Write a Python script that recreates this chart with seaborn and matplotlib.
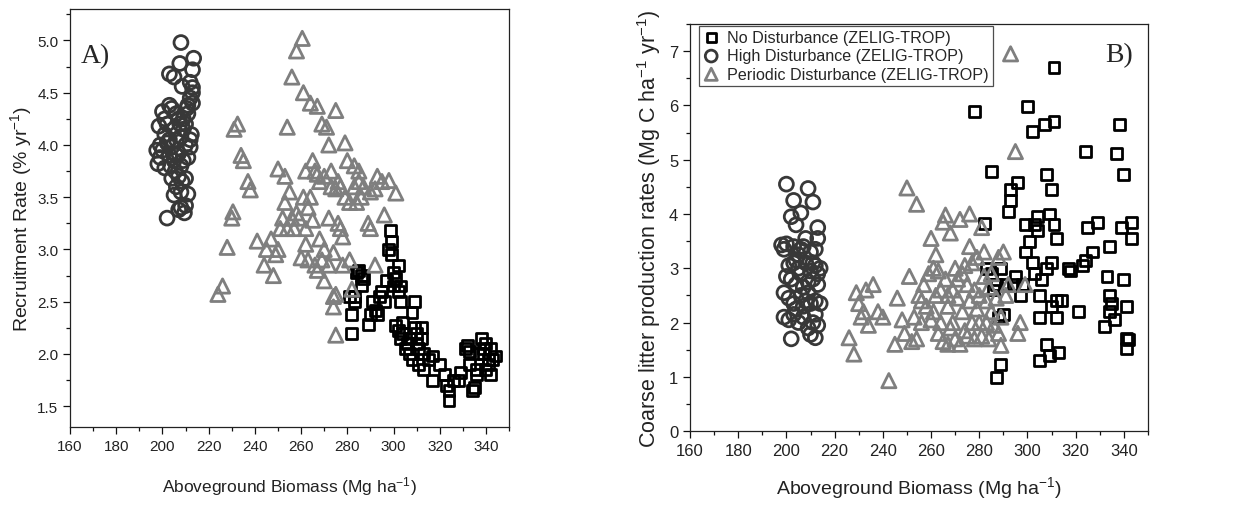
import numpy as np
import pandas as pd
import matplotlib
matplotlib.use("Agg")
import matplotlib.pyplot as plt
from matplotlib.ticker import MultipleLocator
import seaborn as sns

# ---------------- Panel A: recruitment rate ----------------
a_high_x = [208, 213.5, 213, 207.5, 203, 205, 208.5, 213, 213, 212, 211, 211, 212.5,
            200, 203, 204, 206, 207, 209, 210, 207.5, 202, 198.5, 201, 205,
            199, 202, 204, 206, 208, 210, 212, 197.5, 199, 203, 205, 207, 209, 211,
            198, 201, 203.5, 205.5, 207, 204, 208.5, 210, 206, 208, 205, 211, 208, 210,
            209.5, 207, 202, 212, 213, 210.5, 201, 203, 200, 206, 208, 212, 209]
a_high_y = [4.98, 4.83, 4.72, 4.78, 4.68, 4.65, 4.56, 4.55, 4.50, 4.45, 4.38, 4.30, 4.10,
            4.32, 4.38, 4.35, 4.30, 4.25, 4.25, 4.20, 4.20, 4.20, 4.18, 4.10, 4.15,
            4.00, 4.02, 3.98, 4.05, 4.08, 4.00, 3.98, 3.95, 3.88, 3.90, 3.85, 3.92, 3.85, 3.88,
            3.82, 3.78, 3.80, 3.75, 3.70, 3.68, 3.65, 3.68, 3.60, 3.55, 3.52, 3.53, 3.40, 3.42,
            3.35, 3.38, 3.30, 4.60, 4.40, 4.35, 4.25, 4.05, 3.95, 3.90, 3.80, 4.05, 4.15]

a_per_x = [224, 226, 228, 230, 230.5, 231, 232.5, 234, 235, 237, 238, 241,
           244, 245, 247, 248, 249, 250, 250, 253, 254, 251, 252, 253, 254, 255, 256,
           256, 258, 260.5, 259, 260, 261, 261, 262, 262, 262, 263, 264, 264, 265, 265,
           266, 266, 267, 267, 268, 268, 269, 269, 270, 270, 271, 272, 272, 273, 273,
           274, 274, 274, 275, 275, 275, 276, 276, 277, 277, 278, 278, 279, 279, 280,
           281, 281, 282, 283, 284, 285, 285, 286, 287, 289, 290, 290, 292, 292, 293,
           295, 296, 298, 301, 257, 258, 270, 272, 283, 267, 275, 263]
a_per_y = [2.57, 2.65, 3.02, 3.30, 3.36, 4.15, 4.20, 3.90, 3.85, 3.65, 3.57, 3.08,
           2.85, 3.00, 3.10, 2.75, 2.95, 3.00, 3.77, 3.70, 4.17, 3.20, 3.30, 3.45, 3.20, 3.55, 3.30,
           4.65, 4.90, 5.02, 3.30, 2.92, 3.50, 4.50, 3.75, 3.20, 3.05, 2.90, 3.50, 4.40, 3.28, 3.85,
           2.85, 3.75, 4.37, 2.80, 3.10, 3.65, 4.20, 2.90, 3.70, 2.70, 4.17, 4.00, 2.85, 3.60, 3.75,
           2.97, 2.45, 2.55, 2.18, 4.33, 3.58, 3.65, 3.25, 3.20, 3.60, 2.85, 3.12, 4.02, 3.50, 3.85,
           3.45, 2.90, 2.62, 3.80, 3.45, 3.65, 3.75, 3.50, 3.60, 3.25, 3.20, 3.55, 2.85, 3.58, 3.70,
           3.65, 3.33, 3.66, 3.54, 3.20, 3.35, 3.00, 3.30, 3.60, 3.72, 2.57, 3.40]

a_no_x = [281, 282, 282, 283, 284, 285, 286, 287, 283, 286,
          289, 290, 291, 292, 293, 294, 295, 296,
          297, 298, 298.5, 299, 299, 300, 300, 301, 302, 302, 303, 303, 301, 302, 304, 304, 303,
          305, 306, 307, 307, 308, 309, 309, 308, 310, 310, 311, 311, 312, 312, 313, 313, 315,
          317, 317, 320, 322, 323, 324, 324, 326, 328, 329, 331, 332, 333, 333, 334, 335, 336,
          336, 337, 338, 339, 340, 340, 341, 342, 342, 343, 344, 339, 341]
a_no_y = [2.55, 2.38, 2.20, 2.55, 2.78, 2.80, 2.65, 2.72, 2.50, 2.75,
          2.28, 2.38, 2.50, 2.42, 2.38, 2.55, 2.60, 2.50,
          2.70, 3.00, 3.18, 3.08, 2.95, 2.78, 2.65, 2.72, 2.60, 2.85, 2.50, 2.65, 2.27, 2.22, 2.30, 2.20, 2.15,
          2.05, 2.10, 2.00, 2.15, 2.40, 2.50, 2.25, 1.95, 2.10, 2.20, 2.05, 1.90, 2.25, 2.15, 1.85, 2.00, 1.95,
          1.75, 1.98, 1.90, 1.80, 1.70, 1.55, 1.65, 1.75, 1.75, 1.82, 2.05, 2.08, 2.02, 1.90, 1.65, 1.68, 1.85,
          1.80, 2.00, 2.15, 2.00, 2.10, 1.85, 1.95, 2.05, 1.80, 1.95, 1.98, 2.05, 1.90]

# ---------------- Panel B: coarse litter production ----------------
b_high_x = [200, 203, 202, 204, 206, 209, 211, 208, 213, 213, 198, 200, 199, 203, 205, 207, 210, 212,
            201, 203, 205, 206, 208, 210, 212, 214, 202, 204, 207, 209, 211, 213,
            199, 201, 203, 206, 208, 210, 212, 214, 199, 201, 203, 205, 207, 209, 211, 212, 213,
            202, 210, 212, 204, 206, 211, 213, 200, 207, 209, 204]
b_high_y = [4.55, 4.25, 3.95, 3.80, 4.02, 4.47, 4.22, 3.55, 3.75, 3.55, 3.43, 3.45, 3.35, 3.40, 3.25, 3.40, 3.30, 3.35,
            3.05, 3.10, 3.00, 2.90, 3.10, 2.95, 3.05, 3.00, 2.80, 2.70, 2.65, 2.75, 2.80, 2.70,
            2.55, 2.45, 2.35, 2.50, 2.40, 2.35, 2.40, 2.35, 2.10, 2.05, 2.15, 2.00, 2.10, 1.90, 2.00, 2.15, 1.95,
            1.70, 1.78, 1.72, 3.15, 3.35, 3.10, 2.90, 2.85, 2.30, 2.55, 2.25]

b_per_x = [226, 228, 229, 230, 231, 232, 233, 234, 236, 238, 240, 242.5, 245, 246, 248, 249, 250, 251,
           252, 253, 254, 254, 255, 256, 257, 258, 259, 260, 260, 261, 261, 262, 262, 263, 264, 264,
           265, 265, 266, 266, 267, 267, 268, 268, 269, 269, 270, 270, 271, 272, 272, 273, 273, 274,
           274, 275, 275, 276, 276, 276, 277, 277, 278, 278, 279, 279, 280, 280, 281, 281, 282, 282,
           283, 283, 284, 284, 285, 286, 287, 288, 288, 289, 289, 290, 291, 292, 293, 295, 296, 297,
           299, 256, 263, 271, 285, 267]
b_per_y = [1.72, 1.42, 2.55, 2.35, 2.10, 2.20, 2.60, 1.95, 2.70, 2.20, 2.10, 0.93, 1.60, 2.45, 2.05, 1.80, 4.48, 2.85,
           1.65, 2.10, 4.18, 1.70, 2.50, 2.00, 2.70, 2.30, 2.90, 2.05, 3.55, 3.00, 2.20, 3.25, 2.50, 1.80, 2.60, 2.00,
           3.85, 1.65, 3.98, 2.80, 2.30, 1.60, 1.90, 3.65, 2.60, 2.00, 3.00, 1.70, 2.45, 1.60, 3.90, 2.90, 2.20, 3.05,
           1.85, 2.70, 1.75, 4.00, 3.40, 2.40, 3.10, 2.00, 2.60, 1.70, 2.25, 3.20, 2.50, 2.00, 3.75, 1.75, 3.30, 2.85,
           2.40, 2.00, 2.65, 1.70, 2.20, 1.95, 2.45, 3.20, 1.80, 2.10, 1.58, 3.30, 2.50, 2.70, 6.95, 5.15, 1.80, 2.00,
           2.70, 2.40, 2.95, 2.80, 2.90, 2.50]

b_no_x = [278, 282, 285, 283, 285, 286, 287, 289, 290, 288, 287, 289, 291, 292, 293, 293, 294, 295, 296,
          297, 298, 299, 299, 300, 301, 302, 302, 303, 303, 304, 304, 305, 305, 305, 306, 307, 308, 308,
          308, 309, 309, 310, 310, 310, 311, 311, 311, 312, 312, 312, 313, 314, 317, 318, 321, 323, 324,
          324, 325, 327, 329, 332, 333, 334, 334, 334, 335, 336, 337, 338, 339, 340, 340, 341, 341, 341,
          342, 343, 343]
b_no_y = [5.88, 3.82, 4.78, 3.00, 2.90, 2.60, 2.70, 3.00, 2.15, 2.10, 0.98, 1.22, 2.70, 4.05, 4.25, 4.45, 2.70, 2.85, 4.58,
          2.50, 2.70, 3.80, 3.30, 5.98, 3.50, 5.52, 3.10, 3.80, 2.90, 3.95, 3.70, 2.10, 1.30, 2.50, 2.80, 5.65, 4.72, 3.00,
          1.60, 1.40, 4.00, 4.45, 2.30, 3.10, 6.70, 5.70, 3.80, 3.55, 2.40, 2.10, 1.45, 2.40, 3.00, 2.95, 2.20, 3.05, 3.15,
          5.15, 3.75, 3.30, 3.85, 1.92, 2.85, 3.40, 2.50, 2.20, 2.35, 2.05, 5.12, 5.65, 3.75, 4.72, 2.80, 2.30, 1.70, 1.52,
          1.68, 3.55, 3.85]

labels = ["No Disturbance (ZELIG-TROP)", "High Disturbance (ZELIG-TROP)",
          "Periodic Disturbance (ZELIG-TROP)"]
xticks = [160, 180, 200, 220, 240, 260, 280, 300, 320, 340]

# ---------------- styling ----------------
sns.set_theme(style="white")
plt.rcParams['font.family'] = ['Liberation Sans', 'DejaVu Sans']
plt.rcParams['mathtext.default'] = 'regular'

C_NO, C_HIGH, C_PER = "#000000", "#383838", "#7f7f7f"
LW = 2.0

fig = plt.figure(figsize=(12.6, 5.06), dpi=100)
axA = fig.add_axes([0.0556, 0.154, 0.3484, 0.826])
axB = fig.add_axes([0.5476, 0.146, 0.3635, 0.8046])


def draw(ax, nx, ny, hx, hy, px, py):
    sns.scatterplot(x=nx, y=ny, ax=ax, marker="s", s=62, facecolor="none",
                    edgecolor=C_NO, linewidth=LW, label=labels[0], zorder=2)
    sns.scatterplot(x=hx, y=hy, ax=ax, marker="o", s=100, facecolor="none",
                    edgecolor=C_HIGH, linewidth=LW, label=labels[1], zorder=2)
    sns.scatterplot(x=px, y=py, ax=ax, marker="^", s=105, facecolor="none",
                    edgecolor=C_PER, linewidth=LW, label=labels[2], zorder=2)


draw(axA, a_no_x, a_no_y, a_high_x, a_high_y, a_per_x, a_per_y)
draw(axB, b_no_x, b_no_y, b_high_x, b_high_y, b_per_x, b_per_y)

for ax, tsize in ((axA, 11), (axB, 12)):
    ax.set_xlim(160, 350)
    ax.set_xticks(xticks)
    ax.xaxis.set_minor_locator(MultipleLocator(10))
    ax.tick_params(axis="both", which="both", direction="out", bottom=True, left=True,
                   top=False, right=False, colors="#111111", labelcolor="#222222",
                   width=0.9, labelsize=tsize)
    ax.tick_params(which="major", length=5)
    ax.tick_params(which="minor", length=3)
    for sp in ax.spines.values():
        sp.set_color("#222222")
        sp.set_linewidth(0.9)

axA.set_ylim(1.3, 5.3)
axA.set_yticks([1.5, 2.0, 2.5, 3.0, 3.5, 4.0, 4.5, 5.0])
axA.yaxis.set_minor_locator(MultipleLocator(0.25))
axA.set_xlabel("Aboveground Biomass (Mg ha$^{-1}$)", fontsize=12.5, labelpad=15, color="#222222")
axA.set_ylabel("Recruitment Rate (% yr$^{-1}$)", fontsize=14, labelpad=2, color="#222222")
axA.get_legend().remove()
axA.text(0.025, 0.888, "A)", transform=axA.transAxes, fontsize=20,
         family="Liberation Serif", va="center", ha="left")

axB.set_ylim(0, 7.5)
axB.set_yticks([0, 1, 2, 3, 4, 5, 6, 7])
axB.yaxis.set_minor_locator(MultipleLocator(0.5))
axB.set_xlabel("Aboveground Biomass (Mg ha$^{-1}$)", fontsize=14, labelpad=12, color="#222222")
axB.set_ylabel("Coarse litter production rates (Mg C ha$^{-1}$ yr$^{-1}$)", fontsize=15.5,
               labelpad=4, color="#222222")
axB.text(0.906, 0.926, "B)", transform=axB.transAxes, fontsize=20,
         family="Liberation Serif", va="center", ha="left")
leg = axB.legend(loc="upper left", bbox_to_anchor=(0.02, 0.995), fontsize=11.6,
                 frameon=True, fancybox=False, edgecolor="#222222", borderpad=0.25,
                 labelspacing=0.2, handletextpad=0.5, handlelength=1.0,
                 borderaxespad=0.0, markerscale=0.85)
leg.get_frame().set_linewidth(0.9)

fig.savefig("out.png", dpi=100)
